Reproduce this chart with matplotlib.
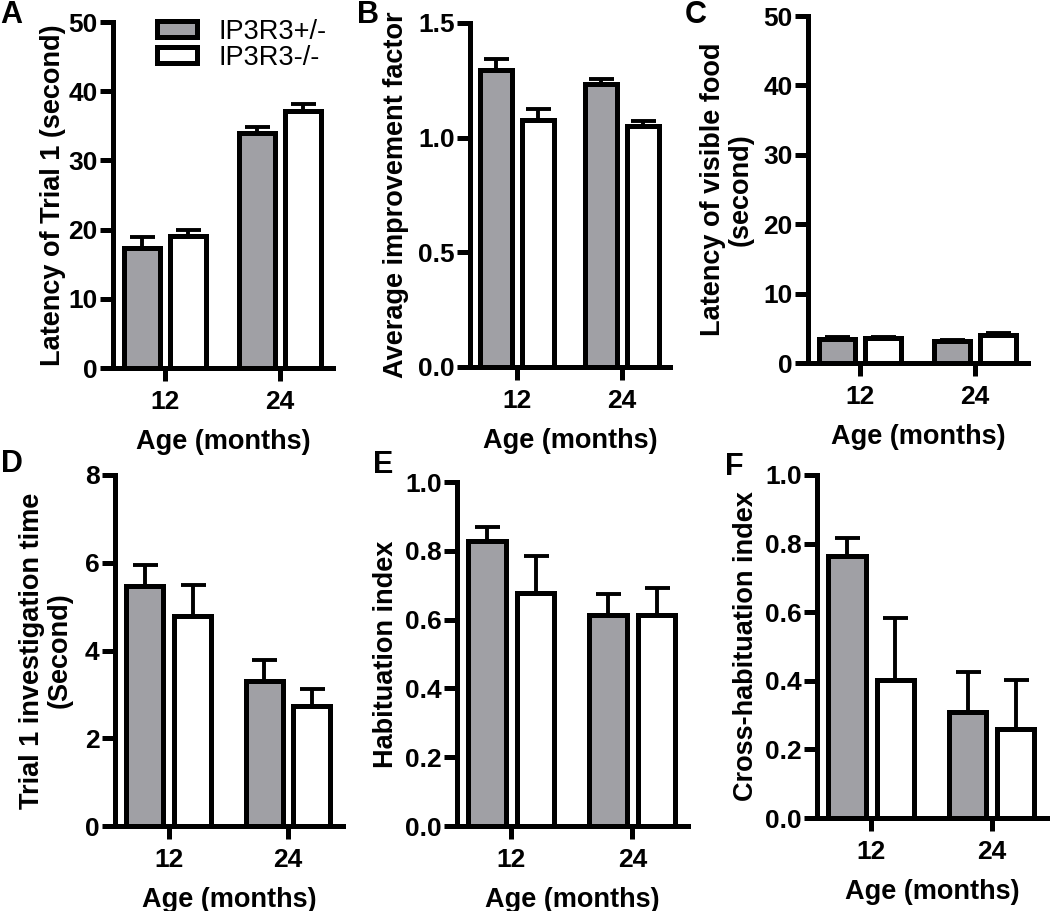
import numpy as np
import matplotlib
matplotlib.use('Agg')
import matplotlib.pyplot as plt
import matplotlib.transforms as mtransforms
from matplotlib.patches import Patch
from matplotlib.ticker import FormatStrFormatter

plt.rcParams['font.family'] = ['Liberation Sans', 'DejaVu Sans']
plt.rcParams['font.weight'] = 'bold'

# Age groups (months)
ages = ['12', '24']
labels = ['IP3R3+/-', 'IP3R3-/-']

# A: latency of trial 1
a_het, a_het_err = [17.4, 33.9], [1.5, 0.9]
a_ko, a_ko_err = [19.1, 37.1], [0.9, 1.1]
# B: average improvement factor
b_het, b_het_err = [1.293, 1.235], [0.05, 0.02]
b_ko, b_ko_err = [1.075, 1.053], [0.05, 0.019]
# C: latency of visible food
c_het, c_het_err = [3.5, 3.1], [0.3, 0.15]
c_ko, c_ko_err = [3.6, 4.1], [0.15, 0.2]
# D: trial 1 investigation time
d_het, d_het_err = [5.48, 3.30], [0.47, 0.48]
d_ko, d_ko_err = [4.79, 2.73], [0.70, 0.40]
# E: habituation index
e_het, e_het_err = [0.828, 0.612], [0.041, 0.062]
e_ko, e_ko_err = [0.678, 0.612], [0.107, 0.080]
# F: cross-habituation index
f_het, f_het_err = [0.765, 0.309], [0.051, 0.116]
f_ko, f_ko_err = [0.403, 0.259], [0.181, 0.144]

GREY = '#a0a0a5'
W, H = 1050, 911

fig = plt.figure(figsize=(W / 100, H / 100), dpi=100)


def px_axes(left, right, top, bottom):
    return fig.add_axes([left / W, 1 - bottom / H, (right - left) / W, (bottom - top) / H])


def panel(ax, het, het_err, ko, ko_err, yticks, ylabel, ylab_x, letter, lpos, fmt=None):
    x = np.arange(len(ages))
    for off, vals, errs, col in ((-0.2, het, het_err, GREY), (0.2, ko, ko_err, 'white')):
        ax.errorbar(x + off, vals, yerr=[np.zeros(len(vals)), errs], fmt='none',
                    ecolor='black', elinewidth=2.8, capsize=9, capthick=2.8, zorder=2)
        ax.bar(x + off, vals, width=0.31, color=col, edgecolor='black', linewidth=3.6, zorder=3)
    ax.set_xlim(-0.45, 1.46)
    ax.set_ylim(yticks[0], yticks[-1])
    ax.set_yticks(yticks)
    ax.set_xticks(x)
    ax.set_xticklabels(ages)
    if fmt:
        ax.yaxis.set_major_formatter(FormatStrFormatter(fmt))
    for s in ('top', 'right'):
        ax.spines[s].set_visible(False)
    for s in ('left', 'bottom'):
        ax.spines[s].set_linewidth(3.6)
        ax.spines[s].set_capstyle('projecting')
    ax.tick_params(width=3.6, length=9.5, labelsize=19, pad=1.5)
    ax.tick_params(axis='x', pad=6)
    ax.set_xlabel('Age (months)', fontsize=19.5, fontweight='bold', labelpad=11)
    ax.set_ylabel(ylabel, fontsize=19.5, fontweight='bold', linespacing=1.1)
    tr = mtransforms.blended_transform_factory(fig.transFigure, ax.transAxes)
    ax.yaxis.set_label_coords(ylab_x / W, 0.5, transform=tr)
    fig.text(lpos[0] / W, 1 - lpos[1] / H, letter, fontsize=22, fontweight='bold',
             ha='left', va='top')
    return ax


axA = panel(px_axes(113, 333, 22, 368), a_het, a_het_err, a_ko, a_ko_err,
            [0, 10, 20, 30, 40, 50], 'Latency of Trial 1 (second)', 66, 'A', (0, 0))
axB = panel(px_axes(470, 670, 23, 367), b_het, b_het_err, b_ko, b_ko_err,
            [0, 0.5, 1.0, 1.5], 'Average improvement factor', 409, 'B', (357, 0), fmt='%.1f')
axC = panel(px_axes(808, 1028, 16, 363), c_het, c_het_err, c_ko, c_ko_err,
            [0, 10, 20, 30, 40, 50], 'Latency of visible food\n(second)', 754, 'C', (685, 0))
axD = panel(px_axes(115, 343, 475, 826), d_het, d_het_err, d_ko, d_ko_err,
            [0, 2, 4, 6, 8], 'Trial 1 investigation time\n(Second)', 73, 'D', (1, 449))
axE = panel(px_axes(457, 688, 482, 826), e_het, e_het_err, e_ko, e_ko_err,
            [0, 0.2, 0.4, 0.6, 0.8, 1.0], 'Habituation index', 399, 'E', (373, 450), fmt='%.1f')
axF = panel(px_axes(817, 1047, 475, 818), f_het, f_het_err, f_ko, f_ko_err,
            [0, 0.2, 0.4, 0.6, 0.8, 1.0], 'Cross-habituation index', 759, 'F', (725, 452), fmt='%.1f')

handles = [Patch(facecolor=GREY, edgecolor='black', linewidth=3.6),
           Patch(facecolor='white', edgecolor='black', linewidth=3.6)]
axA.legend(handles, labels, loc='upper left', bbox_to_anchor=(143 / W, 1 - 5 / H),
           bbox_transform=fig.transFigure, frameon=False, borderpad=0,
           handlelength=1.5, handleheight=0.57, handletextpad=0.8, labelspacing=0.0,
           prop={'size': 19.5, 'weight': 'normal'})

fig.savefig('out.png', dpi=100)
